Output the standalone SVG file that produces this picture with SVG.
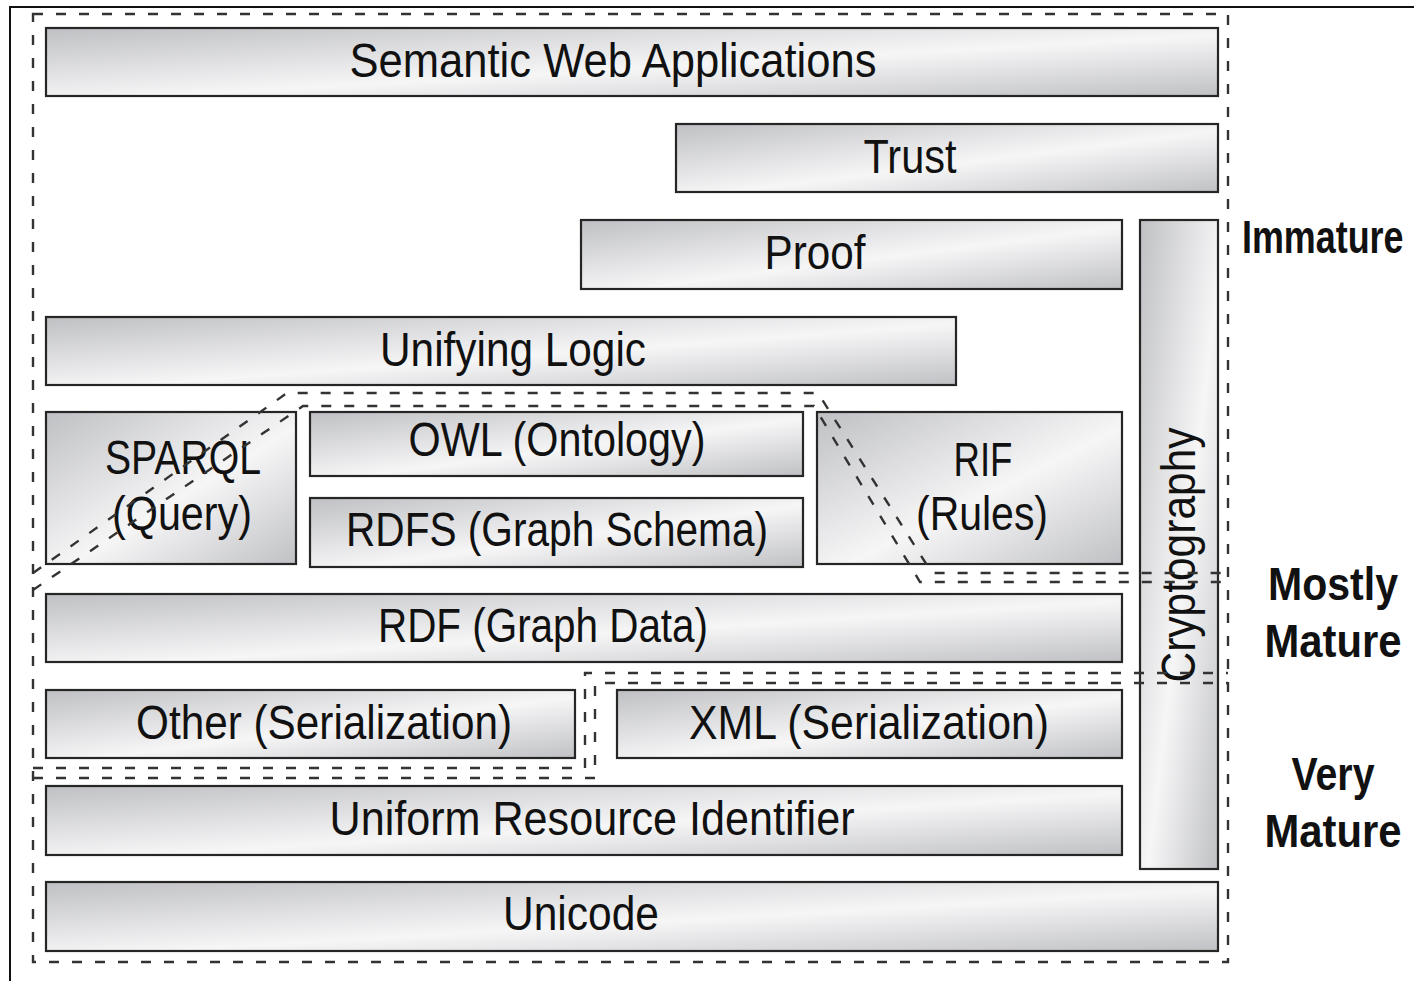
<svg xmlns="http://www.w3.org/2000/svg" width="1414" height="981" viewBox="0 0 1414 981">
<style>
.box{stroke:#262626;stroke-width:2.2;fill:url(#g)}
.t{font-family:"Liberation Sans Narrow","Liberation Sans",Arial,sans-serif;font-size:48px;fill:#111;text-anchor:middle}
.b{font-family:"Liberation Sans Narrow","Liberation Sans",Arial,sans-serif;font-size:46px;font-weight:bold;fill:#111;text-anchor:middle}
.d{fill:none;stroke:#333;stroke-width:2.4;stroke-dasharray:10 13}
</style>
<defs>
<linearGradient id="g" x1="0" y1="0" x2="1" y2="1">
<stop offset="0" stop-color="#bfc0c3"/>
<stop offset="0.55" stop-color="#f6f6f7"/>
<stop offset="1" stop-color="#c0c1c4"/>
</linearGradient>
</defs>
<rect width="1414" height="981" fill="#fff"/>
<g id="frame">
<path d="M10 981 V7 H1414" fill="none" stroke="#111" stroke-width="2"/>
<rect class="d" x="33" y="14" width="1195" height="948"/>
</g>
<g id="semantic-web-applications">
<rect class="box" x="46" y="28" width="1172" height="68"/>
<text class="t" x="613" y="77" textLength="527" lengthAdjust="spacingAndGlyphs">Semantic Web Applications</text>
</g>
<g id="trust">
<rect class="box" x="676" y="124" width="542" height="68"/>
<text class="t" x="910" y="173" textLength="93" lengthAdjust="spacingAndGlyphs">Trust</text>
</g>
<g id="proof">
<rect class="box" x="581" y="220" width="541" height="69"/>
<text class="t" x="815" y="269" textLength="101" lengthAdjust="spacingAndGlyphs">Proof</text>
</g>
<g id="cryptography">
<rect class="box" x="1140" y="220" width="78" height="649"/>
<text class="t" transform="translate(1195 555) rotate(-90)" x="0" y="0" textLength="255" lengthAdjust="spacingAndGlyphs">Cryptography</text>
</g>
<g id="unifying-logic">
<rect class="box" x="46" y="317" width="910" height="68"/>
<text class="t" x="513" y="366" textLength="266" lengthAdjust="spacingAndGlyphs">Unifying Logic</text>
</g>
<g id="sparql">
<rect class="box" x="46" y="412" width="250" height="152"/>
<text class="t" x="183" y="474" textLength="156" lengthAdjust="spacingAndGlyphs">SPARQL</text>
<text class="t" x="182" y="530" textLength="140" lengthAdjust="spacingAndGlyphs">(Query)</text>
</g>
<g id="owl">
<rect class="box" x="310" y="412" width="493" height="64"/>
<text class="t" x="557" y="456" textLength="297" lengthAdjust="spacingAndGlyphs">OWL (Ontology)</text>
</g>
<g id="rdfs">
<rect class="box" x="310" y="498" width="493" height="69"/>
<text class="t" x="557" y="546" textLength="422" lengthAdjust="spacingAndGlyphs">RDFS (Graph Schema)</text>
</g>
<g id="rif">
<rect class="box" x="817" y="412" width="305" height="152"/>
<text class="t" x="983" y="476" textLength="59" lengthAdjust="spacingAndGlyphs">RIF</text>
<text class="t" x="982" y="530" textLength="132" lengthAdjust="spacingAndGlyphs">(Rules)</text>
</g>
<g id="rdf">
<rect class="box" x="46" y="594" width="1076" height="68"/>
<text class="t" x="543" y="642" textLength="330" lengthAdjust="spacingAndGlyphs">RDF (Graph Data)</text>
</g>
<g id="other-serialization">
<rect class="box" x="46" y="690" width="529" height="68"/>
<text class="t" x="324" y="739" textLength="376" lengthAdjust="spacingAndGlyphs">Other (Serialization)</text>
</g>
<g id="xml-serialization">
<rect class="box" x="617" y="690" width="505" height="68"/>
<text class="t" x="869" y="739" textLength="360" lengthAdjust="spacingAndGlyphs">XML (Serialization)</text>
</g>
<g id="uri">
<rect class="box" x="46" y="786" width="1076" height="69"/>
<text class="t" x="592" y="835" textLength="525" lengthAdjust="spacingAndGlyphs">Uniform Resource Identifier</text>
</g>
<g id="unicode">
<rect class="box" x="46" y="882" width="1172" height="69"/>
<text class="t" x="581" y="930" textLength="156" lengthAdjust="spacingAndGlyphs">Unicode</text>
</g>
<g id="connectors">
<path class="d" d="M33 573 L287 393 H818 L932 573 H1228"/>
<path class="d" d="M33 590 L303 406 H814 L920 582 H1228"/>
<path class="d" d="M33 768 H585 V673 H1228"/>
<path class="d" d="M33 778 H595 V683 H1228"/>
</g>
<g id="labels">
<text class="b" transform="translate(1242 253) scale(0.78 1)" x="0" y="0" style="text-anchor:start">Immature</text>
<text class="b" x="1333" y="600" textLength="130" lengthAdjust="spacingAndGlyphs">Mostly</text>
<text class="b" x="1333" y="657" textLength="137" lengthAdjust="spacingAndGlyphs">Mature</text>
<text class="b" x="1333" y="790" textLength="83" lengthAdjust="spacingAndGlyphs">Very</text>
<text class="b" x="1333" y="847" textLength="137" lengthAdjust="spacingAndGlyphs">Mature</text>
</g>
</svg>
